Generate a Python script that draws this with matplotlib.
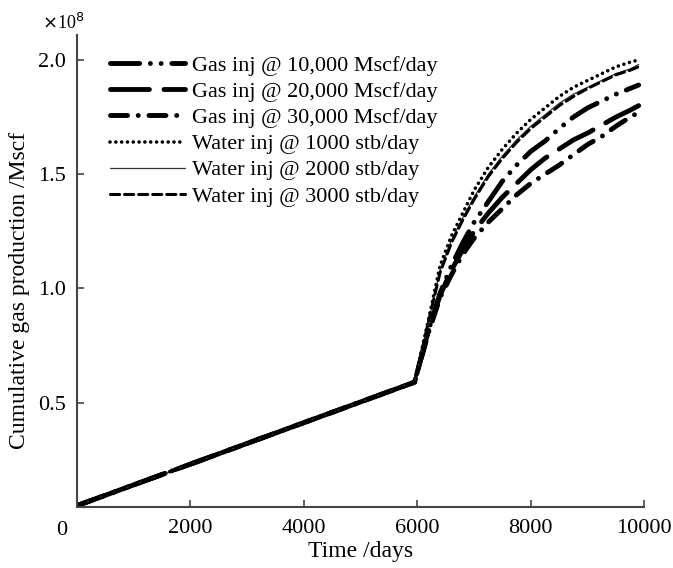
import numpy as np
import matplotlib
matplotlib.use('Agg')
import matplotlib.pyplot as plt

# time axis (days) and cumulative gas production (x1e8 Mscf)
days = [0, 5950, 6200, 6400, 6600, 6800, 7000, 7250, 7500, 7750, 8000,
        8250, 8500, 8750, 9000, 9250, 9500, 9750, 9900]

gas_10000 = [0.05, 0.59, 0.82, 0.98, 1.10, 1.20, 1.29, 1.38, 1.47, 1.54, 1.60,
             1.645, 1.70, 1.75, 1.79, 1.82, 1.85, 1.875, 1.89]
gas_20000 = [0.05, 0.59, 0.82, 0.97, 1.08, 1.17, 1.25, 1.33, 1.40, 1.46, 1.52,
             1.57, 1.61, 1.65, 1.68, 1.715, 1.75, 1.78, 1.80]
gas_30000 = [0.05, 0.59, 0.81, 0.96, 1.06, 1.15, 1.22, 1.29, 1.35, 1.41, 1.46,
             1.50, 1.54, 1.585, 1.63, 1.665, 1.71, 1.75, 1.77]
water_1000 = [0.05, 0.59, 0.87, 1.10, 1.23, 1.33, 1.43, 1.53, 1.61, 1.68, 1.74,
              1.79, 1.84, 1.88, 1.91, 1.94, 1.97, 1.99, 2.00]
water_2000 = [0.05, 0.59, 0.86, 1.08, 1.21, 1.31, 1.40, 1.50, 1.58, 1.65, 1.71,
              1.76, 1.81, 1.85, 1.88, 1.91, 1.94, 1.96, 1.98]
water_3000 = [0.05, 0.59, 0.86, 1.07, 1.20, 1.30, 1.39, 1.49, 1.57, 1.64, 1.70,
              1.75, 1.80, 1.84, 1.875, 1.905, 1.935, 1.955, 1.97]

labels = ["Gas inj @ 10,000 Mscf/day", "Gas inj @ 20,000 Mscf/day",
          "Gas inj @ 30,000 Mscf/day", "Water inj @ 1000 stb/day",
          "Water inj @ 2000 stb/day", "Water inj @ 3000 stb/day"]
xticks = [2000, 4000, 6000, 8000, 10000]
yticks = [0.5, 1.0, 1.5, 2.0]

plt.rcParams['font.family'] = ['Liberation Serif', 'DejaVu Serif']
plt.rcParams['font.size'] = 16

fig = plt.figure(figsize=(6.73, 5.68), dpi=100)
ax = fig.add_axes([0.1144, 0.1074, 0.843, 0.8306])

styles = [
    dict(lw=3.5, ls=(0, (6, 2.2, 0.01, 2.2, 0.01, 2.2)), color='black'),
    dict(lw=3.5, ls=(0, (8, 3)), color='black'),
    dict(lw=3.5, ls=(0, (3.5, 2.2, 0.01, 2.2)), color='black'),
    dict(lw=2.6, ls=(0, (0.01, 1.6)), color='black'),
    dict(lw=0.9, ls='-', color='#333333'),
    dict(lw=2.2, ls=(0, (3, 1.6)), color='black'),
]
series = [gas_10000, gas_20000, gas_30000, water_1000, water_2000, water_3000]

for vals, lab, st in zip(series, labels, styles):
    ax.plot(days, vals, label=lab, dash_capstyle='round',
            solid_capstyle='round', **st)

ax.set_xlim(0, 10000)
ax.set_ylim(0.044, 2.108)
ax.set_xticks(xticks)
ax.set_yticks(yticks)
ax.set_yticklabels(["%.1f" % v for v in yticks])
ax.tick_params(direction='in', length=5, width=1.2, color='#444444',
               labelsize=16, pad=9)
ax.tick_params(axis='y', pad=8)
for side in ['top', 'right']:
    ax.spines[side].set_visible(False)
for side in ['left', 'bottom']:
    ax.spines[side].set_color('#444444')
    ax.spines[side].set_linewidth(1.5)

ax.text(-0.027, -0.03, "0", transform=ax.transAxes, ha='center', va='top',
        fontsize=16)
ax.text(-0.025, 1.005, r"$\times$10$^{8}$", transform=ax.transAxes,
        ha='center', va='bottom', fontsize=13)

ax.set_xlabel("Time /days", fontsize=17, labelpad=2)
ax.set_ylabel("Cumulative gas production /Mscf", fontsize=17)
ax.yaxis.set_label_coords(-0.083, 0.46)

ax.legend(loc='upper left', bbox_to_anchor=(0.03, 0.99), frameon=False,
          handlelength=3.4, handletextpad=0.3, labelspacing=0.25,
          borderaxespad=0.3)

fig.savefig("out.png", dpi=100)
